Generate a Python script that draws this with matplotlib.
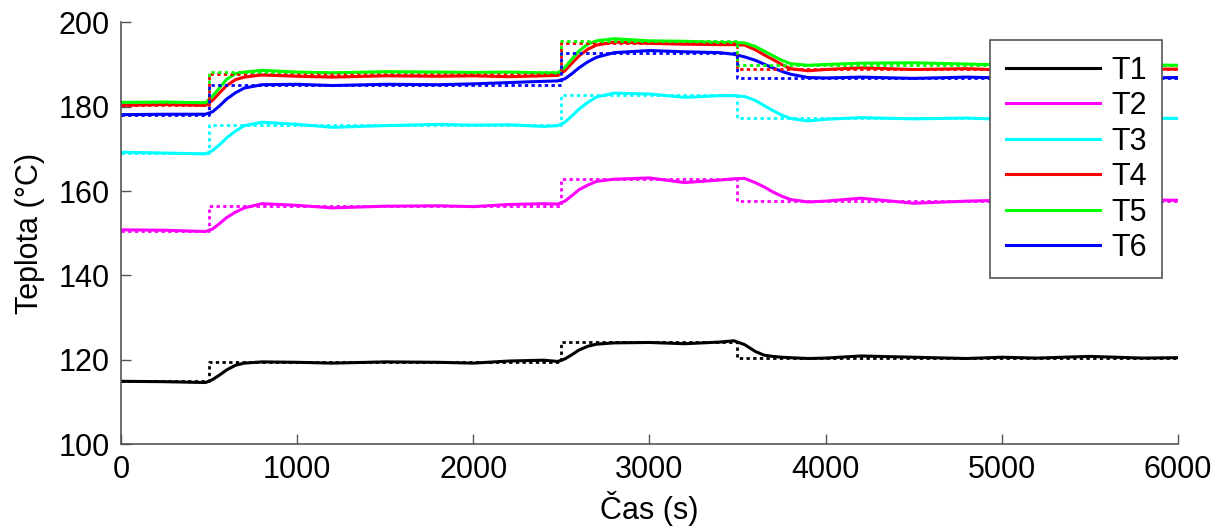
import numpy as np
import matplotlib
matplotlib.use("Agg")
import matplotlib.pyplot as plt

plt.rcParams["font.family"] = ["Liberation Sans", "DejaVu Sans"]

time = [0, 250, 480, 520, 560, 600, 650, 700, 800, 1000, 1200, 1500, 1800, 2000,
        2200, 2400, 2480, 2520, 2560, 2600, 2650, 2700, 2800, 3000, 3200, 3400,
        3480, 3540, 3600, 3650, 3700, 3750, 3800, 3900, 4000, 4200, 4500, 4800,
        5000, 5200, 5500, 5800, 6000]

t1 = [114.9, 114.8, 114.6, 115.3, 116.4, 117.6, 118.7, 119.2, 119.5, 119.4, 119.2,
      119.5, 119.4, 119.2, 119.7, 119.9, 119.6, 120.2, 121.2, 122.3, 123.2, 123.7,
      124.0, 124.1, 123.8, 124.2, 124.5, 123.6, 122.0, 121.1, 120.8, 120.6, 120.5,
      120.3, 120.4, 120.9, 120.6, 120.3, 120.6, 120.4, 120.8, 120.4, 120.5]
t2 = [150.8, 150.7, 150.4, 151.0, 152.3, 153.7, 155.0, 156.0, 157.0, 156.6, 156.0,
      156.4, 156.5, 156.3, 156.8, 157.0, 156.9, 157.6, 158.9, 160.3, 161.4, 162.3,
      162.8, 163.1, 162.0, 162.6, 162.9, 163.0, 162.0, 161.0, 159.8, 158.8, 158.0,
      157.4, 157.6, 158.3, 157.1, 157.6, 157.8, 157.6, 157.7, 157.9, 157.8]
t3 = [169.2, 169.0, 168.8, 169.6, 171.0, 172.6, 174.2, 175.5, 176.3, 175.8, 175.1,
      175.5, 175.8, 175.6, 175.7, 175.3, 175.5, 176.3, 177.8, 179.4, 181.0, 182.3,
      183.2, 183.0, 182.2, 182.6, 182.6, 182.4, 181.5, 180.3, 179.1, 178.0, 177.2,
      176.6, 177.0, 177.4, 177.1, 177.3, 177.0, 177.2, 177.5, 177.3, 177.2]
t4 = [180.3, 180.5, 180.3, 181.5, 183.3, 185.0, 186.4, 187.0, 187.5, 187.2, 187.0,
      187.3, 187.2, 187.3, 187.1, 187.3, 187.4, 188.5, 190.3, 192.0, 193.6, 194.6,
      195.3, 195.0, 194.8, 194.7, 194.7, 194.6, 193.5, 192.3, 191.2, 190.0, 189.0,
      188.5, 188.8, 189.2, 188.8, 189.0, 188.7, 188.9, 189.1, 188.9, 188.9]
t5 = [181.0, 181.1, 180.9, 182.5, 184.5, 186.5, 187.8, 188.2, 188.6, 188.2, 188.0,
      188.3, 188.2, 188.1, 188.2, 188.0, 188.0, 189.3, 191.3, 193.2, 194.8, 195.6,
      196.1, 195.6, 195.5, 195.2, 195.2, 195.1, 194.3, 193.2, 192.1, 191.0, 190.2,
      189.8, 190.0, 190.3, 190.4, 190.1, 189.9, 190.0, 190.3, 189.9, 189.8]
t6 = [178.1, 178.2, 178.2, 178.8, 180.2, 181.8, 183.3, 184.4, 185.2, 185.3, 185.0,
      185.3, 185.2, 185.4, 185.7, 186.0, 186.1, 186.6, 187.8, 189.2, 190.6, 191.7,
      192.8, 193.3, 193.0, 192.8, 192.4, 191.8, 191.0, 190.1, 189.2, 188.4, 187.7,
      186.9, 186.8, 187.0, 186.7, 187.0, 186.8, 186.7, 187.0, 186.8, 186.9]

# Setpoints (step changes)
sp_time = [0, 500, 2500, 3500, 6000]
sp1 = [114.9, 119.5, 124.3, 120.5, 120.5]
sp2 = [150.6, 156.4, 162.9, 157.7, 157.7]
sp3 = [169.0, 175.6, 182.8, 177.2, 177.2]
sp4 = [180.4, 187.7, 195.0, 189.0, 189.0]
sp5 = [181.0, 188.3, 195.6, 189.8, 189.8]
sp6 = [178.1, 185.1, 192.6, 186.7, 186.7]

labels = ["T1", "T2", "T3", "T4", "T5", "T6"]
colors = ["#000000", "#ff00ff", "#00ffff", "#ff0000", "#00ff00", "#0000ff"]

fig = plt.figure(figsize=(12.26, 5.3), dpi=100)
ax = fig.add_axes([0.0987, 0.162, 0.862, 0.796])

for y, c, lab in zip([t1, t2, t3, t4, t5, t6], colors, labels):
    ax.plot(time, y, "-", color=c, lw=2.2, label=lab)

for y, c in zip([sp1, sp2, sp3, sp4, sp5, sp6], colors):
    ax.plot(sp_time, y, color=c, lw=2.0, drawstyle="steps-post",
            linestyle=(0, (1.2, 1.2)))

ax.set_xlim(0, 6000)
ax.set_ylim(100, 200)
ax.set_xticks(np.arange(0, 6001, 1000))
ax.set_yticks(np.arange(100, 201, 20))

for s in ["top", "right"]:
    ax.spines[s].set_visible(False)
for s in ["left", "bottom"]:
    ax.spines[s].set_color("#555555")
    ax.spines[s].set_linewidth(1.2)
ax.tick_params(direction="in", length=7, width=1, color="#555555",
               labelsize=22, pad=8)

ax.set_xlabel("Čas (s)", fontsize=22, labelpad=4)
ax.set_ylabel("Teplota (°C)", fontsize=22, labelpad=10)

leg = ax.legend(loc="upper right", bbox_to_anchor=(0.985, 0.957), fontsize=22,
                handlelength=3.1, labelspacing=0.18, fancybox=False,
                framealpha=1, borderpad=0.5, handletextpad=0.35,
                borderaxespad=0)
leg.get_frame().set_edgecolor("#555555")
leg.get_frame().set_linewidth(1.2)

fig.savefig("out.png", dpi=100)
